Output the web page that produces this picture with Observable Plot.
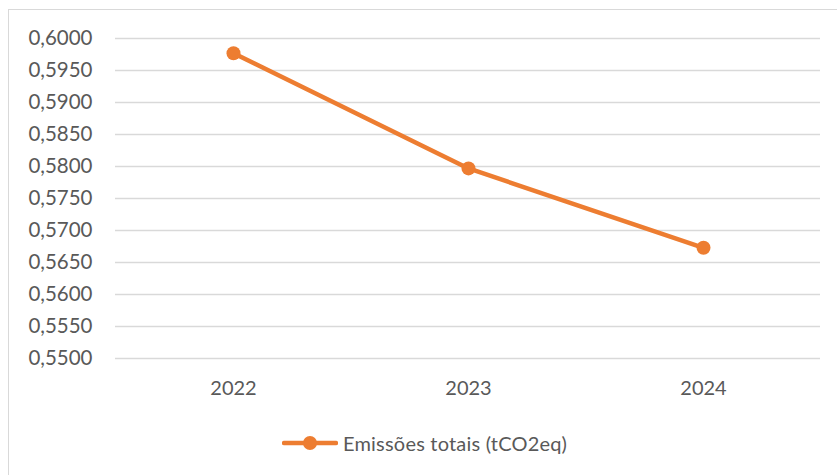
<!DOCTYPE html>
<html>
<head>
<meta charset="utf-8">
<script src="https://cdn.jsdelivr.net/npm/d3@7"></script>
<script src="https://cdn.jsdelivr.net/npm/@observablehq/plot@0.6"></script>
<style>
  html, body { margin: 0; padding: 0; background: #fff; }
  body { width: 837px; height: 475px; overflow: hidden; position: relative; font-family: Lato, "Open Sans", sans-serif; }
  #frame { position: absolute; left: 8px; top: 9px; width: 860px; height: 500px; border: 1.3px solid #d9d9d9; box-sizing: border-box; }
  #chart { position: absolute; left: 0; top: 0; }
  #legend { position: absolute; left: 282px; top: 431px; display: flex; align-items: center; color: #595959; font-size: 20px; letter-spacing: 0.2px; white-space: nowrap; }
  #legend svg { display: block; margin-right: 5px; }
</style>
</head>
<body>
<div id="frame"></div>
<div id="chart"></div>
<div id="legend"></div>
<script>
// Emissões totais por ano (tCO2eq)
const years = ["2022", "2023", "2024"];
const emissions = [0.5977, 0.5797, 0.5673];
const yTicks = [0.55, 0.555, 0.56, 0.565, 0.57, 0.575, 0.58, 0.585, 0.59, 0.595, 0.6];
const seriesName = "Emissões totais (tCO2eq)";
const orange = "#ED7D31";

const data = years.map((year, i) => ({year, value: emissions[i]}));
const fmt = d => d.toFixed(4).replace(".", ",");

const chart = Plot.plot({
  width: 837,
  height: 410,
  marginLeft: 115,
  marginRight: 17,
  marginTop: 38,
  marginBottom: 52,
  style: {fontFamily: "Lato, 'Open Sans', sans-serif", fontSize: "20px", color: "#595959", background: "transparent"},
  x: {type: "point", domain: years, padding: 0.5, label: null},
  y: {domain: [0.55, 0.6], label: null},
  marks: [
    Plot.gridY(yTicks, {stroke: "#d9d9d9", strokeOpacity: 1, strokeWidth: 1.4}),
    Plot.axisY(yTicks, {tickSize: 0, tickPadding: 23, tickFormat: fmt, fill: "#595959", fontSize: 20.5, label: null, style: {letterSpacing: "0.4px"}}),
    Plot.axisX({tickSize: 0, tickPadding: 22, fill: "#595959", fontSize: 20, label: null}),
    Plot.line(data, {x: "year", y: "value", stroke: orange, strokeWidth: 4.5, strokeLinecap: "round", strokeLinejoin: "round"}),
    Plot.dot(data, {x: "year", y: "value", r: 7, fill: orange, stroke: "none"})
  ]
});
document.getElementById("chart").appendChild(chart);

// Legend: line swatch with a marker, followed by the series name
const legend = d3.select("#legend");
const sw = legend.append("svg").attr("width", 56).attr("height", 20);
sw.append("line").attr("x1", 2).attr("x2", 54).attr("y1", 10).attr("y2", 10)
  .attr("stroke", orange).attr("stroke-width", 4.5).attr("stroke-linecap", "round");
sw.append("circle").attr("cx", 28).attr("cy", 10).attr("r", 7).attr("fill", orange);
legend.append("span").text(seriesName);
</script>
</body>
</html>
